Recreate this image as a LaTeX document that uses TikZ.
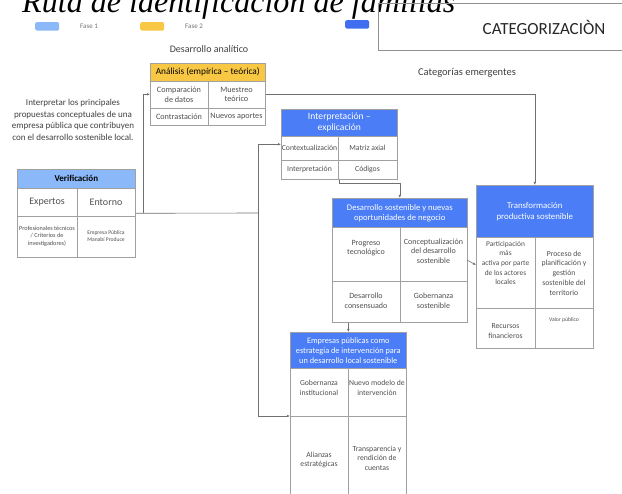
\documentclass[tikz,border=0pt]{standalone}
\usepackage{fontspec}
\setmainfont{Carlito}
\newfontfamily\titlefont{Liberation Serif}
\usetikzlibrary{arrows.meta}
\definecolor{lblue}{HTML}{8AB8F8}
\definecolor{ylw}{HTML}{F8C845}
\definecolor{hblue}{HTML}{4A7DF6}
\definecolor{lgblue}{HTML}{3F6FF0}
\definecolor{bord}{HTML}{A0A0A0}
\definecolor{conncol}{HTML}{707070}
\definecolor{txt}{HTML}{505050}
\tikzset{
  frame/.style={draw=bord, line width=0.6pt, anchor=north west, inner sep=0pt},
  hdr/.style={draw=bord, line width=0.6pt, anchor=north west, inner sep=0pt, fill=hblue, text=white, font=\fontsize{8.6}{10}\selectfont, align=center},
  div/.style={draw=bord, line width=0.6pt},
  ctext/.style={text=txt, align=center, font=\fontsize{7.7}{9.4}\selectfont, inner sep=0pt},
  stext/.style={text=txt, align=center, font=\fontsize{5.6}{6.8}\selectfont, inner sep=0pt},
  conn/.style={draw=conncol, line width=0.6pt},
  arr/.style={conn, -{Latex[length=3pt,width=2.6pt]}},
  legbox/.style={rounded corners=1.5pt, draw=none, minimum width=24pt, minimum height=8.5pt, inner sep=0pt, anchor=north west},
}
\begin{document}
\begin{tikzpicture}[x=1pt,y=-1pt]
\useasboundingbox (0,0) rectangle (622,494);
\clip (0,0) rectangle (622,494);
\fill[white] (0,0) rectangle (622,494);

% title (cut off at top, as in the reference)
\node[anchor=base west, inner sep=0pt] (title) at (22,13) {\resizebox{433pt}{!}{\titlefont\itshape Ruta de identificación de familias}};

% legend
\node[legbox, fill=lblue] (leg1) at (35,22) {};
\node[stext, text=black!55, font=\fontsize{7}{8}\selectfont, anchor=west] (leg1t) at (80,26.5) {Fase 1};
\node[legbox, fill=ylw] (leg2) at (140,22) {};
\node[stext, text=black!55, font=\fontsize{7}{8}\selectfont, anchor=west] (leg2t) at (185,26.5) {Fase 2};
\node[legbox, fill=lgblue] (leg3) at (345,20) {};

% categorización box
\node[frame, draw=bord!90!black, minimum width=260pt, minimum height=47pt] (cat) at (378,3) {};
\node[inner sep=0pt, font=\fontsize{17}{19}\selectfont, text=black!85] (catt) at (544,27) {CATEGORIZACIÒN};

% labels
\node[ctext, text=black!75, font=\fontsize{10}{12}\selectfont] (desan) at (209,49) {Desarrollo analítico};
\node[ctext, text=black!75, font=\fontsize{10.5}{12}\selectfont] (catem) at (467,73) {Categorías emergentes};
\node[ctext, text=black!75, font=\fontsize{9}{11.5}\selectfont] (obj) at (73,120) {Interpretar los principales\\propuestas conceptuales de una\\empresa pública que contribuyen\\con el desarrollo sostenible local.};

% Análisis
\node[frame, minimum width=115pt, minimum height=62pt] (ana) at (150,63) {};
\node[hdr, fill=ylw, text=black, font=\fontsize{9.3}{10}\selectfont, minimum width=115pt, minimum height=18pt] (anah) at (150,63) {Análisis (empírica – teórica)};
\draw[div] (208,81) -- (208,125);
\draw[div] (150,108) -- (265,108);
\node[ctext, font=\fontsize{8.2}{9.6}\selectfont] (a11) at (179,94.5) {Comparación\\de datos};
\node[ctext, font=\fontsize{8.2}{9.6}\selectfont] (a12) at (236.5,94.5) {Muestreo\\teórico};
\node[ctext, font=\fontsize{8.2}{9.6}\selectfont] (a21) at (179,116.5) {Contrastación};
\node[ctext, font=\fontsize{8.2}{9.6}\selectfont] (a22) at (236.5,116.5) {Nuevos aportes};

% Verificación
\node[frame, minimum width=118pt, minimum height=88pt] (ver) at (17,169) {};
\node[hdr, fill=lblue, text=black, font=\bfseries\fontsize{9}{10}\selectfont, minimum width=118pt, minimum height=19pt] (verh) at (17,169) {Verificación};
\draw[div] (77,188) -- (77,257);
\draw[div] (17,216) -- (135,216);
\node[ctext, font=\fontsize{10}{11}\selectfont] (v11) at (47,202) {Expertos};
\node[ctext, font=\fontsize{10}{11}\selectfont] (v12) at (106,202) {Entorno};
\node[stext, font=\fontsize{6.2}{7.6}\selectfont] (v21) at (47,236) {Profesionales técnicos\\/ Criterios de\\investigadores)};
\node[stext] (v22) at (106,236) {Empresa Pública\\Manabí Produce};

% Interpretación
\node[frame, minimum width=116pt, minimum height=70pt] (int) at (281,109) {};
\node[hdr, font=\fontsize{9.6}{11}\selectfont, minimum width=116pt, minimum height=27pt] (inth) at (281,109) {Interpretación –\\explicación};
\draw[div] (338,136) -- (338,179);
\draw[div] (281,160) -- (397,160);
\node[ctext] (i11) at (309.5,148) {Contextualización};
\node[ctext] (i12) at (367.5,148) {Matriz axial};
\node[ctext] (i21) at (309.5,169.5) {Interpretación};
\node[ctext] (i22) at (367.5,169.5) {Códigos};

% Desarrollo sostenible
\node[frame, minimum width=135pt, minimum height=124pt] (ds) at (332,198) {};
\node[hdr, minimum width=135pt, minimum height=29pt] (dsh) at (332,198) {Desarrollo sostenible y nuevas\\oportunidades de negocio};
\draw[div] (400,227) -- (400,322);
\draw[div] (332,281) -- (467,281);
\node[ctext, font=\fontsize{8}{9.6}\selectfont] (d11) at (366,248) {Progreso\\tecnológico};
\node[ctext, font=\fontsize{8}{9.6}\selectfont] (d12) at (433.5,251) {Conceptualización\\del desarrollo\\sostenible};
\node[ctext, font=\fontsize{8}{9.6}\selectfont] (d21) at (366,301) {Desarrollo\\consensuado};
\node[ctext, font=\fontsize{8}{9.6}\selectfont] (d22) at (433.5,301) {Gobernanza\\sostenible};

% Transformación
\node[frame, minimum width=117pt, minimum height=163pt] (tra) at (476,185) {};
\node[hdr, font=\fontsize{8.8}{11}\selectfont, minimum width=117pt, minimum height=52pt] (trah) at (476,185) {Transformación\\productiva sostenible};
\draw[div] (535,237) -- (535,348);
\draw[div] (476,308) -- (593,308);
\node[ctext, font=\fontsize{7.4}{9.6}\selectfont] (t11) at (505.5,263) {Participación\\más\\activa por parte\\de los actores\\locales};
\node[ctext, font=\fontsize{7.7}{9.8}\selectfont] (t12) at (564,273) {Proceso de\\planificación y\\gestión\\sostenible del\\territorio};
\node[ctext] (t21) at (505.5,331) {Recursos\\financieros};
\node[stext] (t22) at (564,320) {Valor público};

% Empresas públicas
\node[frame, minimum width=116pt, minimum height=175pt] (emp) at (290,332) {};
\node[hdr, font=\fontsize{8.3}{10}\selectfont, minimum width=116pt, minimum height=36pt] (emph) at (290,332) {Empresas públicas como\\estrategia de intervención para\\un desarrollo local sostenible};
\draw[div] (348,368) -- (348,500);
\draw[div] (290,416) -- (406,416);
\node[ctext] (e11) at (319,388) {Gobernanza\\institucional};
\node[ctext] (e12) at (377,388) {Nuevo modelo de\\intervención};
\node[ctext] (e21) at (319,460) {Alianzas\\estratégicas};
\node[ctext] (e22) at (377,458) {Transparencia y\\rendición de\\cuentas};

% connectors
\coordinate (j1) at (143,213);
\coordinate (j2) at (258,213);
\coordinate (empin) at (290,416);
\coordinate (train) at (476,265);
\draw[conn] (ver.east) -- (j2);
\draw[arr] (j1) |- (ana.west);
\draw[arr] (j2) |- (int.west);
\draw[arr] (j2) |- (empin);
\draw[arr] (ana.east) -| (tra.north);
\draw[arr] (int.south) -- ++(0,4) -| (ds.north);
\draw[arr] (ds.east) -- (train);
\draw[arr] (emp.north |- ds.south) -- (emp.north);
\end{tikzpicture}
\end{document}
